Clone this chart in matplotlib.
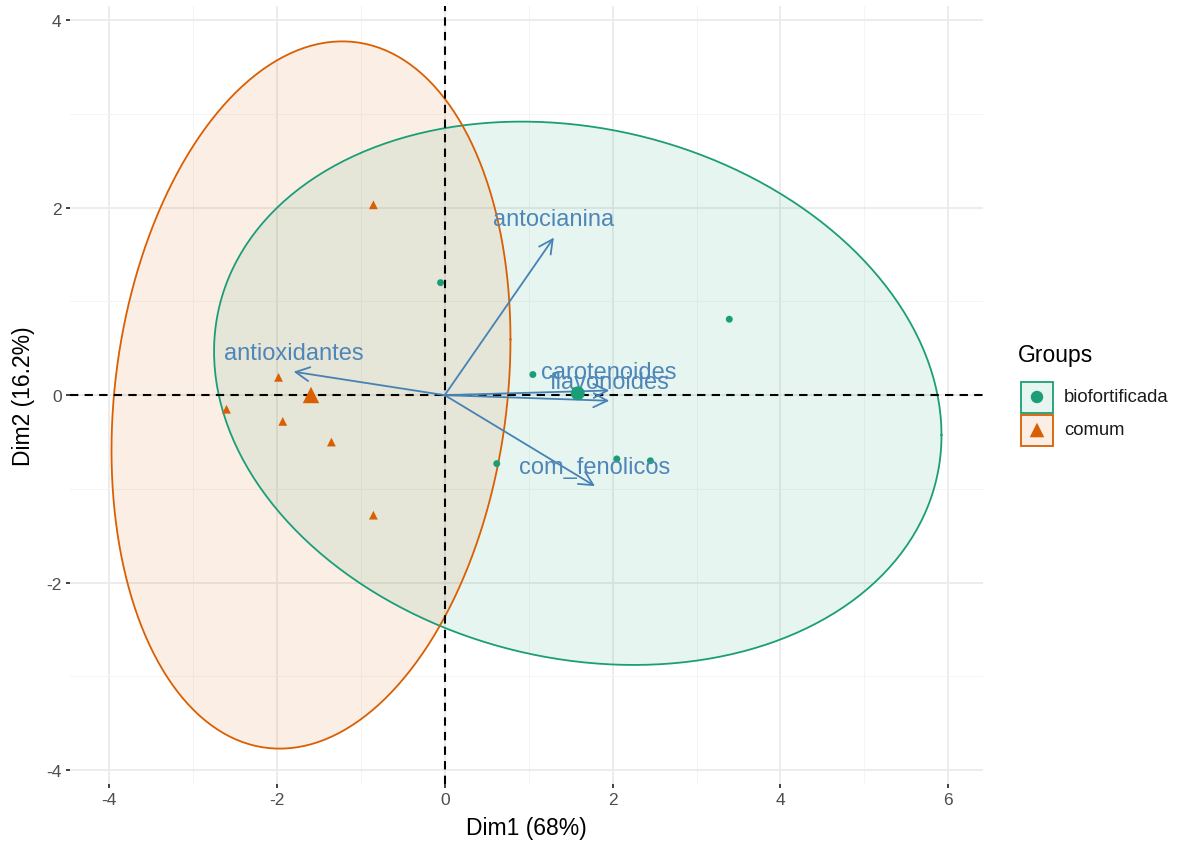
import numpy as np
import matplotlib.pyplot as plt
from matplotlib.patches import Polygon, FancyArrowPatch, Rectangle

plt.rcParams['font.family'] = ['Liberation Sans', 'DejaVu Sans']
plt.rcParams['axes.unicode_minus'] = False

# --- individuals (PCA scores) ---
bio_x = [-0.05, 3.39, 1.05, 0.62, 2.05, 2.45]
bio_y = [1.20, 0.81, 0.22, -0.73, -0.68, -0.70]
com_x = [-0.85, -1.98, -2.60, -1.93, -1.35, -0.85]
com_y = [2.03, 0.19, -0.15, -0.28, -0.50, -1.28]

# --- variables (loadings, scaled) ---
var_names = ['antocianina', 'antioxidantes', 'carotenoides', 'flavonoides', 'com_fenolicos']
var_x = [1.30, -1.80, 1.96, 1.96, 1.79]
var_y = [1.68, 0.25, 0.05, -0.06, -0.97]

groups = ['biofortificada', 'comum']
group_colors = ['#1B9E77', '#D95F02']
group_markers = ['o', '^']
group_data = [(bio_x, bio_y), (com_x, com_y)]

xlab = 'Dim1 (68%)'
ylab = 'Dim2 (16.2%)'


def norm_ellipse(x, y, level=0.95):
    # same recipe as ggplot2 stat_ellipse(type = "norm")
    pts = np.column_stack([x, y])
    center = pts.mean(axis=0)
    cov = np.cov(pts, rowvar=False)
    d = len(pts) - 1
    fq = d / 2 * ((1 - level) ** (-2 / d) - 1)  # F(2, d) quantile
    r = np.sqrt(2 * fq)
    t = np.linspace(0, 2 * np.pi, 361)
    circle = np.column_stack([np.cos(t), np.sin(t)])
    return center + r * circle @ np.linalg.cholesky(cov).T


W, H = 1178, 845
fig = plt.figure(figsize=(W / 100, H / 100), dpi=100)
ax = fig.add_axes([70 / W, 1 - 785 / H, (983 - 70) / W, (785 - 7) / H])

ellipses = [norm_ellipse(x, y) for x, y in group_data]

# limits: data + ellipses, 5% expansion like ggplot
allx = np.concatenate([e[:, 0] for e in ellipses] + [bio_x, com_x, var_x])
ally = np.concatenate([e[:, 1] for e in ellipses] + [bio_y, com_y, var_y])
dx = (allx.max() - allx.min()) * 0.05
dy = (ally.max() - ally.min()) * 0.05
ax.set_xlim(allx.min() - dx, allx.max() + dx)
ax.set_ylim(ally.min() - dy, ally.max() + dy)

# grid
ax.set_xticks([-4, -2, 0, 2, 4, 6])
ax.set_yticks([-4, -2, 0, 2, 4])
ax.set_xticks([-3, -1, 1, 3, 5], minor=True)
ax.set_yticks([-3, -1, 1, 3], minor=True)
ax.grid(which='major', color='#EBEBEB', lw=1.3, zorder=0)
ax.grid(which='minor', color='#F4F4F4', lw=0.7, zorder=0)
ax.set_axisbelow(True)
for s in ax.spines.values():
    s.set_visible(False)
ax.tick_params(which='major', length=3, width=1.3, color='#333333',
               labelcolor='#4D4D4D', labelsize=12.5, pad=3)
ax.tick_params(which='minor', length=0)

# points
for (x, y), c, m in zip(group_data, group_colors, group_markers):
    ax.scatter(x, y, s=40 if m == '^' else 25, marker=m, color=c,
               edgecolors='none', zorder=3)

# ellipses
for e, c in zip(ellipses, group_colors):
    ax.add_patch(Polygon(e, closed=True, facecolor=c, alpha=0.1,
                         edgecolor='none', zorder=2))
    ax.plot(e[:, 0], e[:, 1], color=c, lw=1.3, zorder=2.5)

# reference lines
ax.axhline(0, color='black', lw=1.5, ls=(0, (4, 3)), zorder=2.6)
ax.axvline(0, color='black', lw=1.5, ls=(0, (4, 3)), zorder=2.6)

# variable arrows
for name, x, y in zip(var_names, var_x, var_y):
    ax.add_patch(FancyArrowPatch((0, 0), (x, y),
                                 arrowstyle='->,head_length=0.55,head_width=0.28',
                                 mutation_scale=18, color='#4682B4', lw=1.3,
                                 shrinkA=0, shrinkB=0, zorder=4))
    ax.annotate(name, (x, y), xytext=(0, 13.5), textcoords='offset points',
                ha='center', va='center', color='#4F86B8', fontsize=17, zorder=5)

# group means
for (x, y), c, m in zip(group_data, group_colors, group_markers):
    ax.scatter([np.mean(x)], [np.mean(y)], s=140 if m == '^' else 100,
               marker=m, color=c, edgecolors='none', zorder=6)

ax.set_xlabel(xlab, fontsize=16.5, labelpad=6)
ax.set_ylabel(ylab, fontsize=16.5, labelpad=8)

# legend (drawn by hand in a small axes, pixel units)
lg = fig.add_axes([1005 / W, 1 - 465 / H, 173 / W, 125 / H])
lg.set_xlim(1005, 1178)
lg.set_ylim(465, 340)
lg.axis('off')
lg.text(1018, 356, 'Groups', fontsize=16.5, va='center', ha='left')
for i, (g, c, m) in enumerate(zip(groups, group_colors, group_markers)):
    yc = 398 + i * 33
    lg.add_patch(Rectangle((1021, yc - 15.5), 32, 31, facecolor=c, alpha=0.1,
                           edgecolor='none'))
    lg.add_patch(Rectangle((1021, yc - 15.5), 32, 31, facecolor='none',
                           edgecolor=c, lw=1.3))
    lg.scatter([1037], [yc], s=110 if m == '^' else 80, marker=m, color=c,
               edgecolors='none')
    lg.text(1064, yc, g, fontsize=13.3, va='center', ha='left', color='#1A1A1A')

fig.savefig('out.png', dpi=100)
